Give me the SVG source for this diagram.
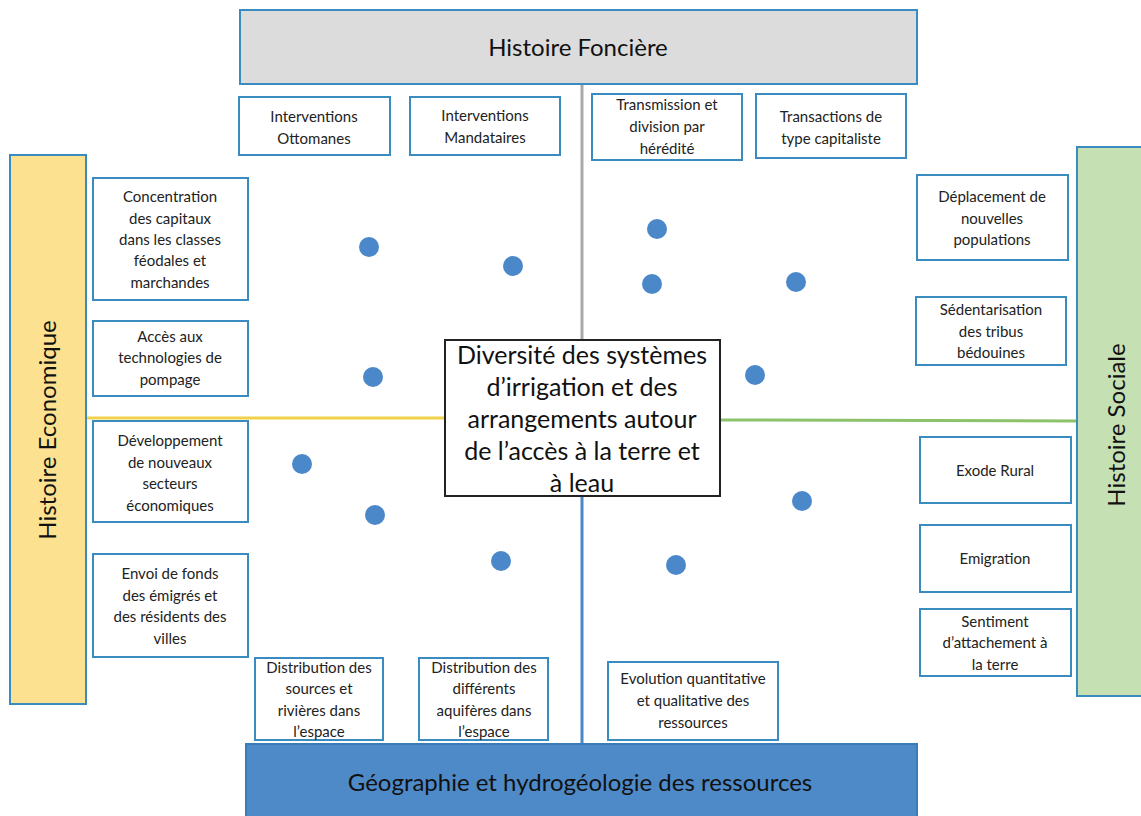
<svg xmlns="http://www.w3.org/2000/svg" width="1141" height="816" viewBox="0 0 1141 816">
<style>
.box{fill:#fff;stroke:#3a8cc0;stroke-width:2}
.t{font-family:Lato,"Open Sans","Liberation Sans",sans-serif;font-size:15px;fill:#222;text-anchor:middle}
.big{font-family:Lato,"Open Sans","Liberation Sans",sans-serif;font-size:24px;fill:#111;text-anchor:middle}
.ctr{font-family:Lato,"Open Sans","Liberation Sans",sans-serif;font-size:25px;fill:#111;text-anchor:middle}
.dot{fill:#4a88c9}
</style>
<rect width="1141" height="816" fill="#fff"/>
<g id="connectors">
<line x1="582" y1="84" x2="582" y2="340" stroke="#a9a9a9" stroke-width="3"/>
<line x1="582" y1="496" x2="582" y2="745" stroke="#4a88c9" stroke-width="3"/>
<line x1="86" y1="418" x2="445" y2="418" stroke="#f2d24a" stroke-width="3"/>
<line x1="720" y1="420" x2="1077" y2="421" stroke="#8cc26a" stroke-width="3"/>
</g>
<g id="foncier">
<rect x="240" y="10" width="677" height="74" fill="#dcdcdc" stroke="#3a8cc0" stroke-width="2"/>
<text class="big" x="578" y="56">Histoire Foncière</text>
</g>
<g id="economique">
<rect x="10" y="155" width="76" height="549" fill="#fbe190" stroke="#3a8cc0" stroke-width="2"/>
<text class="big" transform="translate(56,430) rotate(-90)">Histoire  Economique</text>
</g>
<g id="sociale">
<rect x="1077" y="147" width="66" height="549" fill="#c5e0b3" stroke="#3a8cc0" stroke-width="2"/>
<text class="big" transform="translate(1125,425) rotate(-90)">Histoire  Sociale</text>
</g>
<g id="geographie">
<rect x="246" y="744" width="671" height="74" fill="#4f8ac8" stroke="#3a7cb8" stroke-width="2"/>
<text class="big" x="580" y="791">Géographie et hydrogéologie des ressources</text>
</g>
<g id="centre">
<rect x="445" y="340" width="275" height="156" fill="#fff" stroke="#222" stroke-width="2"/>
<text class="ctr" x="582" y="364">Diversité des systèmes</text>
<text class="ctr" x="582" y="396">d’irrigation et des</text>
<text class="ctr" x="582" y="428">arrangements autour</text>
<text class="ctr" x="582" y="460">de l’accès à la terre et</text>
<text class="ctr" x="582" y="492">à leau</text>
</g>
<g id="ottomanes"><rect class="box" x="239" y="97" width="151" height="58"/>
<text class="t" x="314" y="122">Interventions</text><text class="t" x="314" y="144">Ottomanes</text></g>
<g id="mandataires"><rect class="box" x="410" y="97" width="150" height="58"/>
<text class="t" x="485" y="121">Interventions</text><text class="t" x="485" y="143">Mandataires</text></g>
<g id="transmission"><rect class="box" x="592" y="94" width="150" height="66"/>
<text class="t" x="667" y="110">Transmission et</text><text class="t" x="667" y="132">division par</text><text class="t" x="667" y="154">hérédité</text></g>
<g id="transactions"><rect class="box" x="756" y="94" width="150" height="64"/>
<text class="t" x="831" y="122">Transactions de</text><text class="t" x="831" y="144">type capitaliste</text></g>
<g id="concentration"><rect class="box" x="93" y="178" width="155" height="122"/>
<text class="t" x="170" y="202">Concentration</text><text class="t" x="170" y="224">des capitaux</text><text class="t" x="170" y="245">dans les classes</text><text class="t" x="170" y="266">féodales et</text><text class="t" x="170" y="288">marchandes</text></g>
<g id="acces"><rect class="box" x="93" y="321" width="155" height="75"/>
<text class="t" x="170" y="342">Accès aux</text><text class="t" x="170" y="363">technologies de</text><text class="t" x="170" y="385">pompage</text></g>
<g id="developpement"><rect class="box" x="93" y="421" width="155" height="101"/>
<text class="t" x="170" y="446">Développement</text><text class="t" x="170" y="468">de nouveaux</text><text class="t" x="170" y="489">secteurs</text><text class="t" x="170" y="511">économiques</text></g>
<g id="envoi"><rect class="box" x="93" y="554" width="155" height="103"/>
<text class="t" x="170" y="579">Envoi de fonds</text><text class="t" x="170" y="601">des émigrés et</text><text class="t" x="170" y="622">des résidents des</text><text class="t" x="170" y="644">villes</text></g>
<g id="deplacement"><rect class="box" x="917" y="175" width="151" height="85"/>
<text class="t" x="992" y="202">Déplacement de</text><text class="t" x="992" y="224">nouvelles</text><text class="t" x="992" y="245">populations</text></g>
<g id="sedentarisation"><rect class="box" x="916" y="297" width="150" height="68"/>
<text class="t" x="991" y="315">Sédentarisation</text><text class="t" x="991" y="337">des tribus</text><text class="t" x="991" y="358">bédouines</text></g>
<g id="exode"><rect class="box" x="920" y="437" width="151" height="66"/>
<text class="t" x="995" y="476">Exode Rural</text></g>
<g id="emigration"><rect class="box" x="920" y="525" width="151" height="67"/>
<text class="t" x="995" y="564">Emigration</text></g>
<g id="sentiment"><rect class="box" x="920" y="609" width="151" height="67"/>
<text class="t" x="995" y="627">Sentiment</text><text class="t" x="995" y="648">d’attachement à</text><text class="t" x="995" y="670">la terre</text></g>
<g id="sources"><rect class="box" x="255" y="658" width="128" height="82"/>
<text class="t" x="319" y="673">Distribution des</text><text class="t" x="319" y="694">sources et</text><text class="t" x="319" y="716">rivières dans</text><text class="t" x="319" y="737">l’espace</text></g>
<g id="aquiferes"><rect class="box" x="419" y="658" width="129" height="82"/>
<text class="t" x="484" y="673">Distribution des</text><text class="t" x="484" y="694">différents</text><text class="t" x="484" y="716">aquifères dans</text><text class="t" x="484" y="737">l’espace</text></g>
<g id="evolution"><rect class="box" x="608" y="662" width="170" height="78"/>
<text class="t" x="693" y="684">Evolution quantitative</text><text class="t" x="693" y="706">et qualitative des</text><text class="t" x="693" y="728">ressources</text></g>
<g id="points">
<circle class="dot" cx="369" cy="247" r="10"/>
<circle class="dot" cx="513" cy="266" r="10"/>
<circle class="dot" cx="657" cy="229" r="10"/>
<circle class="dot" cx="652" cy="284" r="10"/>
<circle class="dot" cx="796" cy="282" r="10"/>
<circle class="dot" cx="373" cy="377" r="10"/>
<circle class="dot" cx="755" cy="375" r="10"/>
<circle class="dot" cx="302" cy="464" r="10"/>
<circle class="dot" cx="375" cy="515" r="10"/>
<circle class="dot" cx="802" cy="501" r="10"/>
<circle class="dot" cx="501" cy="561" r="10"/>
<circle class="dot" cx="676" cy="565" r="10"/>
</g>
</svg>
